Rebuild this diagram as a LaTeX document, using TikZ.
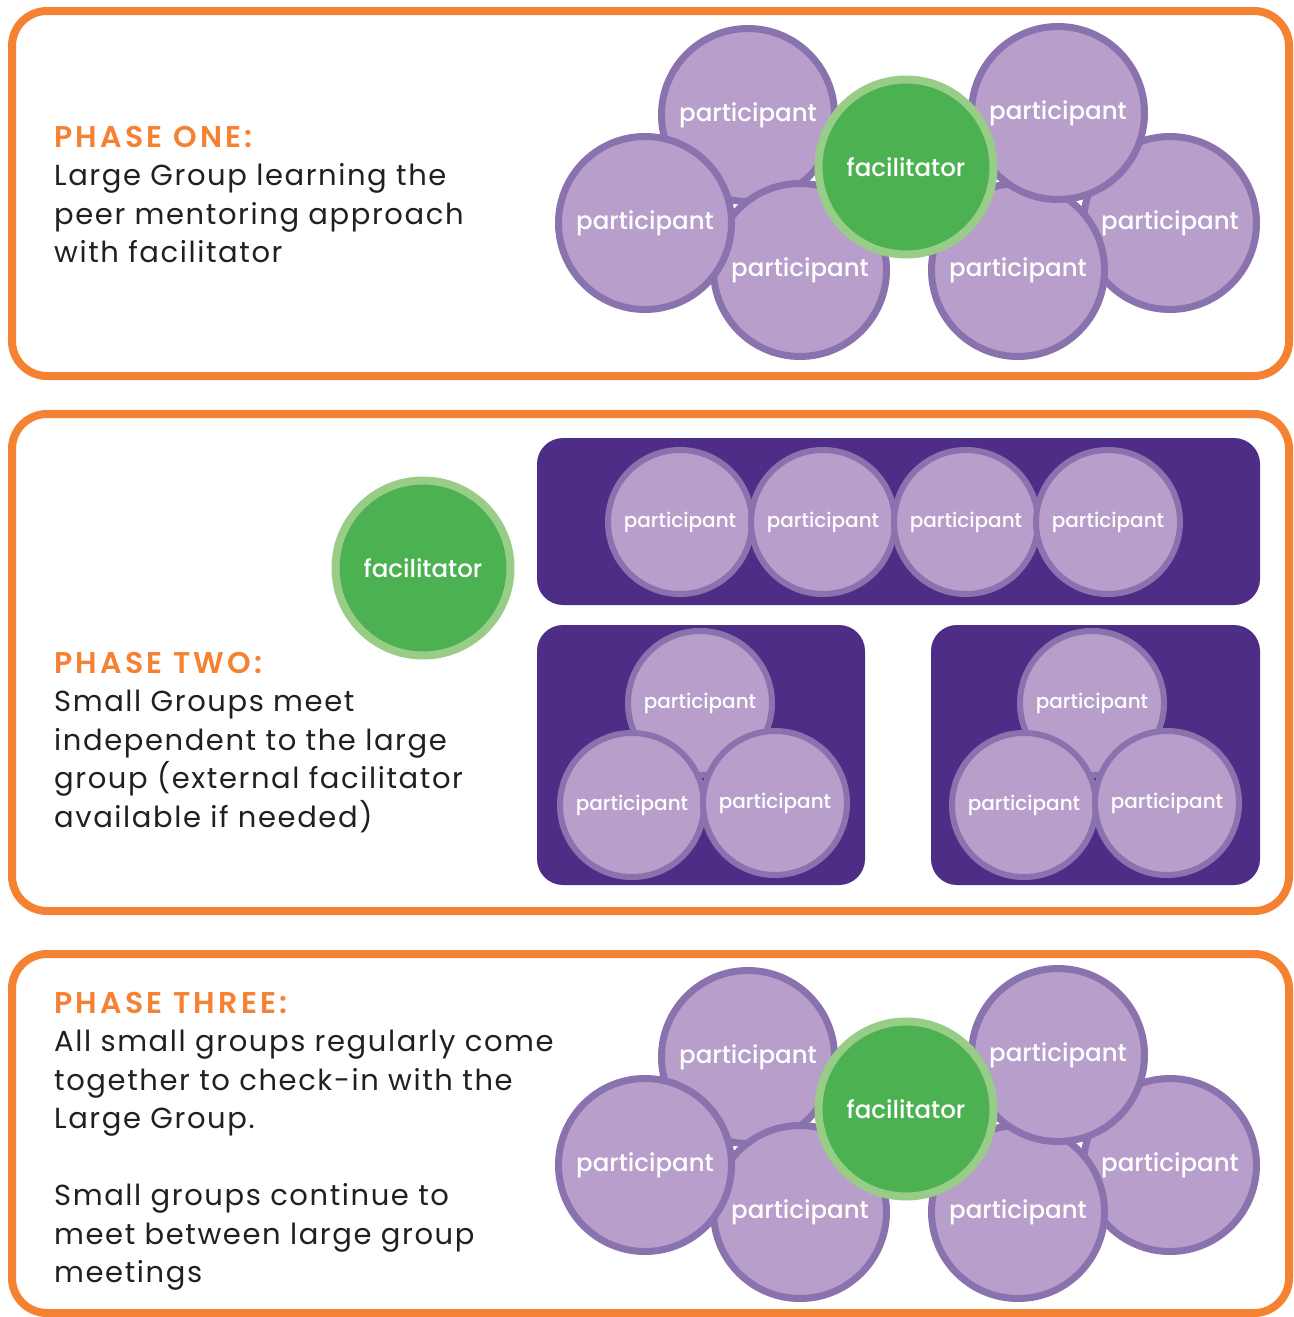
\documentclass[tikz,border=0pt]{standalone}
\usepackage{fontspec}
\setmainfont{Poppins}
\newfontfamily\bodyfont{Poppins}[LetterSpace=5.5]
\newfontfamily\headfont{Poppins SemiBold}[LetterSpace=11]
\newfontfamily\labelfont{Poppins Medium}
\usetikzlibrary{positioning}

\begin{document}
\begin{tikzpicture}[
            x=1pt,y=-1pt,
            phasebox/.style={draw=orangeA,line width=8pt,rounded corners=35pt},
            groupbox/.style={fill=purpleD,rounded corners=26pt},
            participant/.style={circle,draw=purpleB,fill=purpleA,line width=7pt,minimum size=173pt,inner sep=0pt,text=white,font=\labelfont\fontsize{24.5}{26}\selectfont},
            smallpart/.style={participant,line width=6pt,minimum size=144pt,font=\labelfont\fontsize{20}{22}\selectfont},
            facil/.style={circle,draw=greenB,fill=greenA,line width=8pt,minimum size=175pt,inner sep=0pt,text=white,font=\labelfont\fontsize{24.5}{26}\selectfont},
            phasetext/.style={anchor=north west,align=left,inner sep=0pt,text=textA,font=\bodyfont\fontsize{29}{38.5}\selectfont}
        ]

        % Define colors
        \definecolor{orangeA}{RGB}{245,130,51};
        \definecolor{purpleA}{RGB}{184,158,203};
        \definecolor{purpleB}{RGB}{138,114,175};
        \definecolor{purpleD}{RGB}{78,45,135};
        \definecolor{greenA}{RGB}{76,177,81};
        \definecolor{greenB}{RGB}{152,205,136};
        \definecolor{textA}{RGB}{35,31,32};

        \useasboundingbox (0,0) rectangle (1293,1317);

        % Phase boxes
        \draw[phasebox] (12,11) rectangle (1289,376);
        \draw[phasebox] (12,414) rectangle (1289,911);
        \draw[phasebox] (12,954) rectangle (1289,1313);

        % Phase one: large group
        \node[phasetext] (txtone) at (54,126) {\textcolor{orangeA}{\headfont\fontsize{30}{38.5}\selectfont PHASE ONE:}\\
            Large Group learning the\\ peer mentoring approach\\ with facilitator};
        \node[participant] (p1tl) at (748,115) {participant};
        \node[participant] (p1b) at (800,270) {participant};
        \node[participant] (p1l) at (645,223) {participant};
        \node[participant] (p1r) at (1170,223) {participant};
        \node[participant] (p1br) at (1018,270) {participant};
        \node[participant] (p1tr) at (1058,113) {participant};
        \node[facil] (f1) at (906,167) {facilitator};

        % Phase two: small groups
        \node[phasetext] (txttwo) at (54,652) {\textcolor{orangeA}{\headfont\fontsize{30}{38.5}\selectfont PHASE TWO:}\\
            Small Groups meet\\ independent to the large\\ group (external facilitator\\ available if needed)};
        \node[facil] (f2) at (423,568) {facilitator};
        \fill[groupbox] (537,438) rectangle (1260,605);
        \fill[groupbox] (537,625) rectangle (865,885);
        \fill[groupbox] (931,625) rectangle (1260,885);
        \node[smallpart] (s1a) at (680,522) {participant};
        \node[smallpart] (s1b) at (823,522) {participant};
        \node[smallpart] (s1c) at (966,522) {participant};
        \node[smallpart] (s1d) at (1108,522) {participant};
        \node[smallpart] (s2a) at (700,703) {participant};
        \node[smallpart] (s2b) at (632,805) {participant};
        \node[smallpart] (s2c) at (775,803) {participant};
        \node[smallpart] (s3a) at (1092,703) {participant};
        \node[smallpart] (s3b) at (1024,805) {participant};
        \node[smallpart] (s3c) at (1167,803) {participant};

        % Phase three: back to the large group
        \node[phasetext] (txtthree) at (54,992) {\textcolor{orangeA}{\headfont\fontsize{30}{38.5}\selectfont PHASE THREE:}\\
            All small groups regularly come\\ together to check-in with the\\ Large Group.\\[38.5pt]
            Small groups continue to\\ meet between large group\\ meetings};
        \node[participant] (p3tl) at (748,1057) {participant};
        \node[participant] (p3b) at (800,1212) {participant};
        \node[participant] (p3l) at (645,1165) {participant};
        \node[participant] (p3r) at (1170,1165) {participant};
        \node[participant] (p3br) at (1018,1212) {participant};
        \node[participant] (p3tr) at (1058,1055) {participant};
        \node[facil] (f3) at (906,1109) {facilitator};

\end{tikzpicture}
\end{document}
